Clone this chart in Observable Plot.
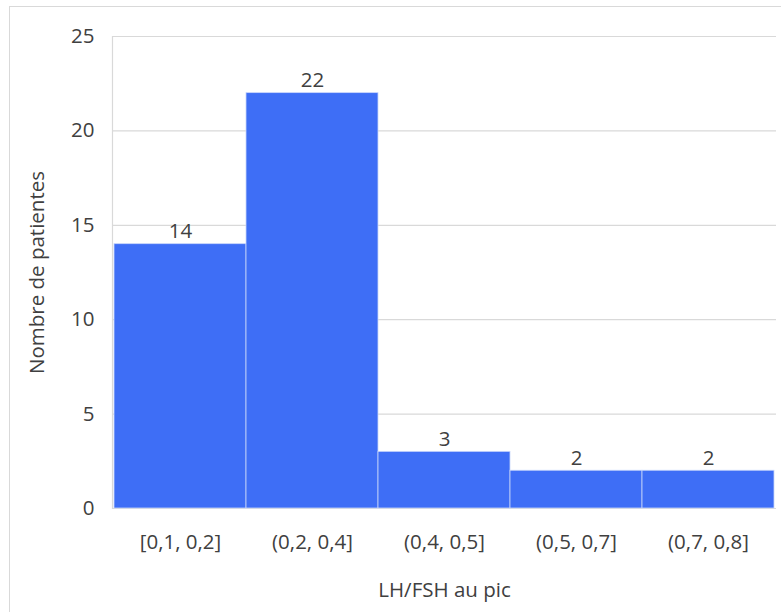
<!DOCTYPE html>
<html>
<head>
<meta charset="utf-8">
<script src="https://cdn.jsdelivr.net/npm/d3@7"></script>
<script src="https://cdn.jsdelivr.net/npm/@observablehq/plot@0.6"></script>
<style>
  html, body { margin: 0; padding: 0; background: #fff; overflow: hidden; }
  #wrap { position: relative; width: 781px; height: 612px; }
  #frame { position: absolute; left: 9px; top: 6px; width: 800px; height: 700px; border: 1px solid #d9d9d9; box-sizing: border-box; pointer-events: none; }
  #chart { position: absolute; left: 0; top: 0; }
</style>
</head>
<body>
<div id="wrap"><div id="frame"></div><div id="chart"></div></div>
<script>
const categories = ["[0,1, 0,2]", "(0,2, 0,4]", "(0,4, 0,5]", "(0,5, 0,7]", "(0,7, 0,8]"];
const counts = [14, 22, 3, 2, 2];
const yTicks = [0, 5, 10, 15, 20, 25];
const xTitle = "LH/FSH au pic";
const yTitle = "Nombre de patientes";

const data = categories.map((c, i) => ({cat: c, n: counts[i]}));
const font = "'Open Sans', Lato, sans-serif";
const textColor = "#404040";
const fs = 20.5;

const chart = Plot.plot({
  width: 781,
  height: 612,
  marginLeft: 112,
  marginRight: 5,
  marginTop: 36,
  marginBottom: 104,
  style: {fontFamily: font, fontSize: fs + "px", color: textColor, background: "transparent"},
  x: {domain: categories, padding: 0, label: null},
  y: {domain: [0, 25], label: null},
  marks: [
    Plot.gridY(yTicks, {stroke: "#d9d9d9", strokeOpacity: 1, strokeWidth: 1.2}),
    Plot.frame({anchor: "left", stroke: "#d9d9d9", strokeWidth: 1.2}),
    Plot.barY(data, {x: "cat", y: "n", fill: "#3e6ef6", stroke: "#c8d6fb", strokeWidth: 0.8, inset: 0}),
    Plot.text(data, {x: "cat", y: "n", text: d => String(d.n), lineAnchor: "bottom", dy: -6, fill: textColor, fontSize: fs}),
    Plot.axisY(yTicks, {tickSize: 0, tickPadding: 18, fontSize: fs, fill: textColor, label: null}),
    Plot.axisX({tickSize: 0, tickPadding: 26, fontSize: fs, fill: textColor, label: null}),
    Plot.text([xTitle], {frameAnchor: "bottom", dy: 88, fontSize: fs, fill: textColor}),
    Plot.text([yTitle], {frameAnchor: "left", textAnchor: "middle", dx: -75, rotate: -90, fontSize: fs, fill: textColor})
  ]
});
document.getElementById("chart").appendChild(chart);
</script>
</body>
</html>
